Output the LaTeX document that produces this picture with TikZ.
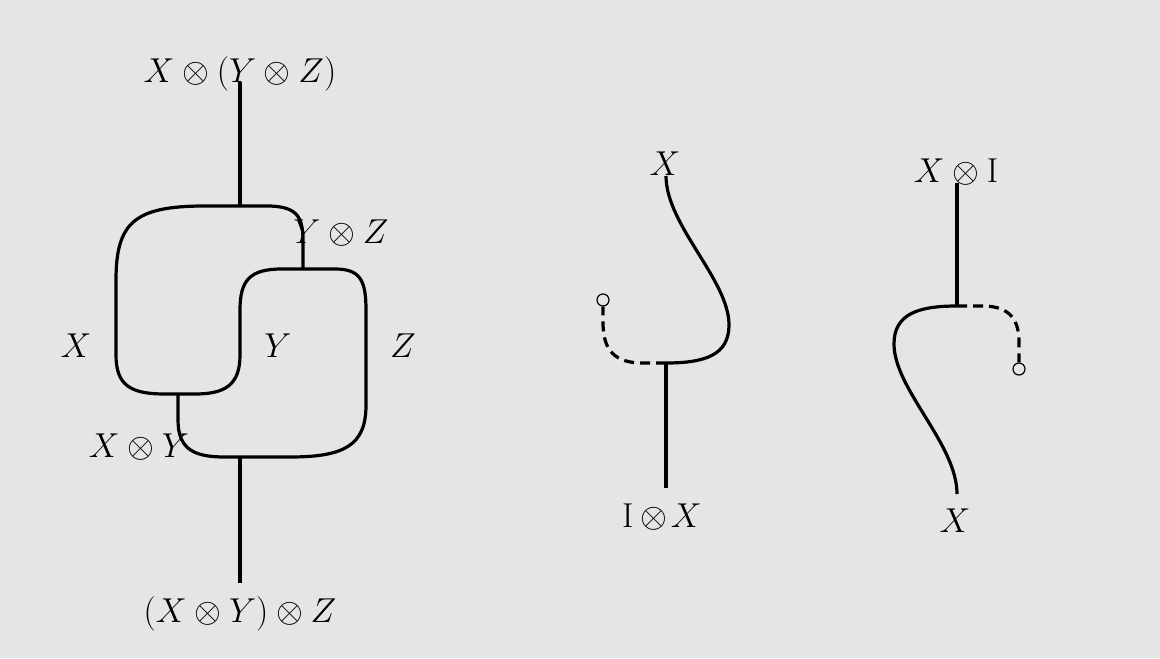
\documentclass[tikz,border=0pt]{standalone}
\definecolor{bg}{RGB}{229,229,228}
\tikzset{
  wire/.style={line width=1.6pt, line cap=butt},
  dwire/.style={line width=1.6pt, dash pattern=on 5pt off 3pt},
  unit/.style={circle, draw, line width=0.6pt, minimum size=6pt, inner sep=0pt},
  lab/.style={anchor=base, inner sep=0pt, font=\fontsize{17.5}{21}\selectfont},
}
\begin{document}
\begin{tikzpicture}[x=0.5pt,y=-0.5pt]
\fill[bg] (0,0) rectangle (1160,658);
\useasboundingbox (0,0) rectangle (1160,658);
% ---------- left diagram ----------
\coordinate (t) at (240,82);
\coordinate (m1) at (240,206);
\coordinate (yz) at (303,269);
\coordinate (xy) at (178,394);
\coordinate (m2) at (240,457);
\coordinate (b) at (240,583);
\node[lab] (ltop) at (240,83) {$X\otimes(Y\otimes Z)$};
\node[lab] (lbot) at (240,622) {$(X\otimes Y)\otimes Z$};
\node[lab] (lyz) at (341,243) {$Y\otimes Z$};
\node[lab] (lx) at (76,357) {$X$};
\node[lab] (ly) at (278,357) {$Y$};
\node[lab] (lz) at (403,357) {$Z$};
\node[lab] (lxy) at (139,457) {$X\otimes Y$};
\draw[wire] (t) -- (m1);
\draw[wire] (m1) -- (205,206) .. controls (135,206) and (116,222) .. (116,280) -- (116,355) .. controls (116,385) and (130,394) .. (165,394) -- (xy);
\draw[wire] (m1) -- (270,206) .. controls (295,207) and (303,215) .. (303,240) -- (yz);
\draw[wire] (yz) -- (282,269) .. controls (250,269) and (240,280) .. (240,310) -- (240,355) .. controls (240,385) and (225,394) .. (195,394) -- (xy);
\draw[wire] (yz) -- (335,269) .. controls (360,269) and (366,280) .. (366,310) -- (366,405) .. controls (366,445) and (345,457) .. (290,457) -- (m2);
\draw[wire] (xy) -- (178,420) .. controls (178,450) and (195,457) .. (225,457) -- (m2);
\draw[wire] (m2) -- (b);
% ---------- middle diagram ----------
\coordinate (mx) at (666,176);
\coordinate (mn) at (666,363);
\coordinate (mb) at (666,488);
\node[unit] (mc) at (603,300) {};
\node[lab] (mtop) at (665,175) {$X$};
\node[lab] (mbot) at (662,527) {$\mathrm{I}\mkern3.5mu{\otimes}\mkern2mu X$};
\draw[wire] (mx) .. controls (666,225) and (729,280) .. (729,325) .. controls (729,355) and (705,363) .. (mn);
\draw[dwire] (mn) -- (640,363) .. controls (610,362) and (603,345) .. (603,322) -- (mc.south);
\draw[wire] (mn) -- (mb);
% ---------- right diagram ----------
\coordinate (rt) at (957,183);
\coordinate (rn) at (957,306);
\coordinate (rb) at (957,494);
\node[unit] (rc) at (1019,369) {};
\node[lab] (rtop) at (956,182) {$X\otimes\mathrm{I}$};
\node[lab] (rbot) at (955,532) {$X$};
\draw[wire] (rt) -- (rn);
\draw[wire] (rn) .. controls (918,306) and (894,314) .. (894,344) .. controls (894,389) and (957,444) .. (rb);
\draw[dwire] (rn) -- (985,306) .. controls (1010,307) and (1019,320) .. (1019,342) -- (rc.north);
\end{tikzpicture}
\end{document}
